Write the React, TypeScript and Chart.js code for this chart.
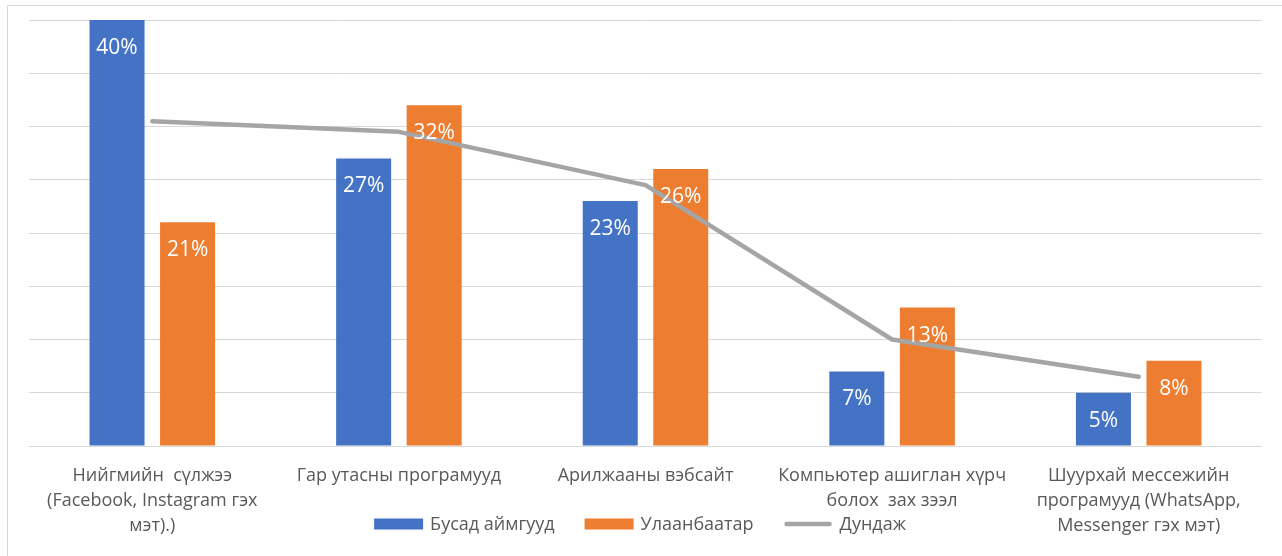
import React, { useEffect, useRef } from "react";
import { Chart, registerables } from "chart.js";

Chart.register(...registerables);

const categories: string[][] = [
  ["Нийгмийн  сүлжээ", "(Facebook, Instagram гэх", "мэт).)"],
  ["Гар утасны програмууд"],
  ["Арилжааны вэбсайт"],
  ["Компьютер ашиглан хүрч", "болох  зах зээл"],
  ["Шуурхай мессежийн", "програмууд (WhatsApp,", "Messenger гэх мэт)"],
];
const otherProvinces = [40, 27, 23, 7, 5];
const ulaanbaatar = [21, 32, 26, 13, 8];
const average = [30.5, 29.5, 24.5, 10, 6.5];
const seriesNames = ["Бусад аймгууд", "Улаанбаатар", "Дундаж"];

const FONT = "'Open Sans', 'Liberation Sans', Arial, sans-serif";
const TEXT = "#595959";

const extrasPlugin = {
  id: "extras",
  beforeDraw(chart: any) {
    const ctx = chart.ctx;
    ctx.save();
    ctx.fillStyle = "#ffffff";
    ctx.fillRect(0, 0, chart.width, chart.height);
    ctx.strokeStyle = "#d9d9d9";
    ctx.lineWidth = 1;
    ctx.strokeRect(7.5, 5.5, chart.width + 10, chart.height + 10);
    ctx.restore();
  },
  afterDraw(chart: any) {
    const ctx = chart.ctx;
    ctx.save();
    // data labels
    ctx.font = `21px ${FONT}`;
    ctx.fillStyle = "#ffffff";
    ctx.textAlign = "center";
    ctx.textBaseline = "middle";
    [0, 1].forEach((di) => {
      const meta = chart.getDatasetMeta(di);
      const data = chart.data.datasets[di].data;
      meta.data.forEach((el: any, i: number) => {
        ctx.fillText(`${data[i]}%`, el.x, el.y + 28);
      });
    });
    // legend
    ctx.font = `18px ${FONT}`;
    ctx.textAlign = "left";
    const ds = chart.data.datasets;
    const boxW = 49;
    const gapText = 7;
    const gapItem = 30;
    const widths = ds.map((d: any) => boxW + gapText + ctx.measureText(d.label).width);
    const total = widths.reduce((a: number, b: number) => a + b, 0) + gapItem * (ds.length - 1);
    let x = 640 - total / 2;
    const y = 524;
    ds.forEach((d: any, i: number) => {
      if (d.type === "line") {
        ctx.strokeStyle = d.borderColor;
        ctx.lineWidth = 4.5;
        ctx.lineCap = "round";
        ctx.beginPath();
        ctx.moveTo(x + 3, y);
        ctx.lineTo(x + boxW - 3, y);
        ctx.stroke();
      } else {
        ctx.fillStyle = d.backgroundColor;
        ctx.fillRect(x, y - 5.5, boxW, 11);
      }
      ctx.fillStyle = TEXT;
      ctx.fillText(d.label, x + boxW + gapText, y + 1);
      x += widths[i] + gapItem;
    });
    ctx.restore();
  },
};

export default function App() {
  const ref = useRef<HTMLCanvasElement>(null);
  useEffect(() => {
    document.body.style.margin = "0";
    const chart = new Chart(ref.current as HTMLCanvasElement, {
      type: "bar",
      data: {
        labels: categories,
        datasets: [
          {
            type: "bar",
            label: seriesNames[0],
            data: otherProvinces,
            backgroundColor: "#4472c4",
            categoryPercentage: 0.572,
            barPercentage: 0.78,
            order: 1,
          },
          {
            type: "bar",
            label: seriesNames[1],
            data: ulaanbaatar,
            backgroundColor: "#ed7d31",
            categoryPercentage: 0.572,
            barPercentage: 0.78,
            order: 1,
          },
          {
            type: "line",
            label: seriesNames[2],
            data: average,
            borderColor: "#a5a5a5",
            backgroundColor: "#a5a5a5",
            borderWidth: 4.5,
            pointRadius: 0,
            borderCapStyle: "round",
            borderJoinStyle: "round",
            order: 0,
          } as any,
        ],
      },
      options: {
        animation: false,
        responsive: false,
        layout: { padding: { left: 29, right: 20, top: 20, bottom: 0 } },
        plugins: { legend: { display: false }, tooltip: { enabled: false } },
        scales: {
          x: {
            grid: { display: false, drawTicks: false },
            border: { display: false },
            ticks: {
              color: TEXT,
              font: { family: FONT, size: 18, lineHeight: 25 / 18 },
              padding: 17,
              maxRotation: 0,
              autoSkip: false,
            },
            afterFit: (s: any) => {
              s.height = 110;
            },
          },
          y: {
            min: 0,
            max: 40,
            ticks: { display: false, stepSize: 5 },
            grid: { color: "#d9d9d9", lineWidth: 1, drawTicks: false },
            border: { display: false },
            afterFit: (s: any) => {
              s.width = 0;
            },
          },
        },
      },
      plugins: [extrasPlugin],
    });
    return () => chart.destroy();
  }, []);
  return <canvas ref={ref} width={1282} height={556} style={{ display: "block" }} />;
}
